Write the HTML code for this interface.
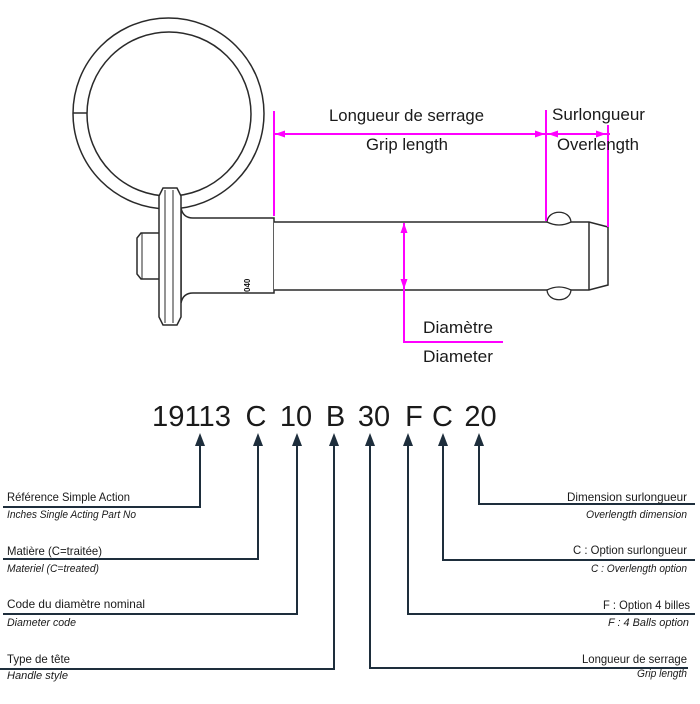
<!DOCTYPE html>
<html>
<head>
<meta charset="utf-8">
<style>
  html, body { margin: 0; padding: 0; background: #ffffff; }
  body { width: 700px; height: 704px; overflow: hidden; }
  svg { display: block; }
  .t { font-family: "Liberation Sans", "DejaVu Sans", sans-serif; fill: #1a1a1a; }
  .i { font-family: "Liberation Sans", "DejaVu Sans", sans-serif; font-style: italic; fill: #1a1a1a; }
</style>
</head>
<body>
<svg width="700" height="704" viewBox="0 0 700 704" xmlns="http://www.w3.org/2000/svg">
  <!-- ===== Drawing (black line art) ===== -->
  <g fill="none" stroke="#2a2a2a" stroke-width="1.5">
    <circle cx="168.5" cy="113.5" r="95.5"/>
    <circle cx="169" cy="114" r="82"/>
    <line x1="73" y1="113" x2="87" y2="113"/>
  </g>
  <path d="M181,208 Q183,218 193,218 L274,218 L274,293 L193,293 Q183,293 181,303 Z" fill="#fff" stroke="#2a2a2a" stroke-width="1.5"/>
  <path d="M159,233 L141,233 L137,238 L137,274 L141,279 L159,279" fill="#fff" stroke="#2a2a2a" stroke-width="1.5"/>
  <line x1="142" y1="233" x2="142" y2="279" stroke="#2a2a2a" stroke-width="1"/>
  <path d="M159,196 L163,188 L177,188 L181,196 L181,317 L177,325 L163,325 L159,317 Z" fill="#fff" stroke="#2a2a2a" stroke-width="1.5"/>
  <line x1="165" y1="190" x2="165" y2="323" stroke="#2a2a2a" stroke-width="1"/>
  <line x1="173" y1="190" x2="173" y2="323" stroke="#2a2a2a" stroke-width="1"/>
  <text x="0" y="0" transform="translate(250,292) rotate(-90)" font-family="Liberation Sans, sans-serif" font-weight="bold" font-size="8" fill="#111">040</text>
  <path d="M274,222 L589,222 L608,227 L608,285 L589,290 L274,290" fill="#fff" stroke="#2a2a2a" stroke-width="1.5"/>
  <line x1="589" y1="222" x2="589" y2="290" stroke="#2a2a2a" stroke-width="1.5"/>
  <path d="M547,222 C548,209 570,209 571,222 Q559,228 547,222 Z" fill="#fff" stroke="#2a2a2a" stroke-width="1.3"/>
  <path d="M547,290 C548,303 570,303 571,290 Q559,284 547,290 Z" fill="#fff" stroke="#2a2a2a" stroke-width="1.3"/>

  <!-- ===== Magenta dimensions ===== -->
  <g stroke="#ff00ff" stroke-width="2" fill="none">
    <line x1="274" y1="111" x2="274" y2="216"/>
    <line x1="546" y1="110" x2="546" y2="221"/>
    <line x1="608" y1="125" x2="608" y2="227"/>
    <line x1="274" y1="134" x2="610" y2="134"/>
    <line x1="404" y1="223" x2="404" y2="342"/>
    <line x1="403" y1="342" x2="503" y2="342"/>
  </g>
  <g fill="#ff00ff">
    <polygon points="275,134 285,130.5 285,137.5"/>
    <polygon points="545,134 535,130.5 535,137.5"/>
    <polygon points="548,134 558,130.5 558,137.5"/>
    <polygon points="606,134 596,130.5 596,137.5"/>
    <polygon points="404,223 400.5,233 407.5,233"/>
    <polygon points="404,289 400.5,279 407.5,279"/>
  </g>

  <text class="t" x="329" y="121" font-size="17" textLength="155" lengthAdjust="spacingAndGlyphs">Longueur de serrage</text>
  <text class="t" x="366" y="150" font-size="17" textLength="82" lengthAdjust="spacingAndGlyphs">Grip length</text>
  <text class="t" x="552" y="120" font-size="17" textLength="93" lengthAdjust="spacingAndGlyphs">Surlongueur</text>
  <text class="t" x="557" y="150" font-size="17" textLength="82" lengthAdjust="spacingAndGlyphs">Overlength</text>
  <text class="t" x="423" y="333" font-size="17" textLength="70" lengthAdjust="spacingAndGlyphs">Diamètre</text>
  <text class="t" x="423" y="362" font-size="17" textLength="70" lengthAdjust="spacingAndGlyphs">Diameter</text>

  <!-- ===== Part code ===== -->
  <g class="t" font-size="29" text-anchor="middle">
    <text x="191.5" y="426" textLength="79" lengthAdjust="spacingAndGlyphs">19113</text>
    <text x="256" y="426">C</text>
    <text x="296" y="426">10</text>
    <text x="335.5" y="426">B</text>
    <text x="374" y="426">30</text>
    <text x="414" y="426">F</text>
    <text x="442.5" y="426">C</text>
    <text x="480.5" y="426">20</text>
  </g>

  <!-- ===== Leader lines ===== -->
  <g stroke="#1e2e3c" stroke-width="2" fill="none">
    <polyline points="200,445 200,507 3,507"/>
    <polyline points="258,445 258,559 3,559"/>
    <polyline points="297,445 297,614 3,614"/>
    <polyline points="334,445 334,669 0,669"/>
    <polyline points="479,445 479,504 695,504"/>
    <polyline points="443,445 443,560 695,560"/>
    <polyline points="408,445 408,614 695,614"/>
    <polyline points="370,445 370,668 688,668"/>
  </g>
  <g fill="#1e2e3c">
    <polygon points="200,433 195,446 205,446"/>
    <polygon points="258,433 253,446 263,446"/>
    <polygon points="297,433 292,446 302,446"/>
    <polygon points="334,433 329,446 339,446"/>
    <polygon points="370,433 365,446 375,446"/>
    <polygon points="408,433 403,446 413,446"/>
    <polygon points="443,433 438,446 448,446"/>
    <polygon points="479,433 474,446 484,446"/>
  </g>

  <text class="t" x="7" y="501" font-size="12" textLength="123" lengthAdjust="spacingAndGlyphs">Référence Simple Action</text>
  <text class="i" x="7" y="518" font-size="11" textLength="129" lengthAdjust="spacingAndGlyphs">Inches Single Acting Part No</text>
  <text class="t" x="7" y="555" font-size="12" textLength="95" lengthAdjust="spacingAndGlyphs">Matière (C=traitée)</text>
  <text class="i" x="7" y="572" font-size="11" textLength="92" lengthAdjust="spacingAndGlyphs">Materiel (C=treated)</text>
  <text class="t" x="7" y="608" font-size="12" textLength="138" lengthAdjust="spacingAndGlyphs">Code du diamètre nominal</text>
  <text class="i" x="7" y="626" font-size="11" textLength="69" lengthAdjust="spacingAndGlyphs">Diameter code</text>
  <text class="t" x="7" y="663" font-size="12" textLength="63" lengthAdjust="spacingAndGlyphs">Type de tête</text>
  <text class="i" x="7" y="679" font-size="11" textLength="61" lengthAdjust="spacingAndGlyphs">Handle style</text>

  <text class="t" x="567" y="501" font-size="12" textLength="120" lengthAdjust="spacingAndGlyphs">Dimension surlongueur</text>
  <text class="i" x="586" y="518" font-size="11" textLength="101" lengthAdjust="spacingAndGlyphs">Overlength dimension</text>
  <text class="t" x="573" y="554" font-size="12" textLength="114" lengthAdjust="spacingAndGlyphs">C : Option surlongueur</text>
  <text class="i" x="591" y="572" font-size="11" textLength="96" lengthAdjust="spacingAndGlyphs">C : Overlength option</text>
  <text class="t" x="603" y="609" font-size="12" textLength="87" lengthAdjust="spacingAndGlyphs">F : Option 4 billes</text>
  <text class="i" x="608" y="626" font-size="11" textLength="81" lengthAdjust="spacingAndGlyphs">F : 4 Balls option</text>
  <text class="t" x="582" y="663" font-size="12" textLength="105" lengthAdjust="spacingAndGlyphs">Longueur de serrage</text>
  <text class="i" x="637" y="677" font-size="11" textLength="50" lengthAdjust="spacingAndGlyphs">Grip length</text>
</svg>
</body>
</html>
